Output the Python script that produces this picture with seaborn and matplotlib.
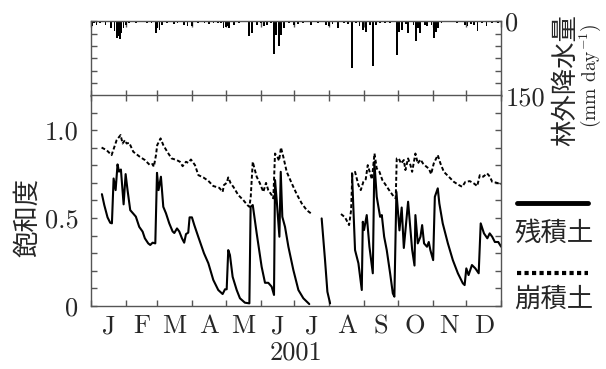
import numpy as np
import pandas as pd
import matplotlib
matplotlib.use("Agg")
import matplotlib.pyplot as plt
from matplotlib.lines import Line2D
import seaborn as sns

# ---- data (day of year 2001, 0 = Jan 1) ----
month_labels = ['J', 'F', 'M', 'A', 'M', 'J', 'J', 'A', 'S', 'O', 'N', 'D']
month_starts = [0, 31, 59, 90, 120, 151, 181, 212, 243, 273, 304, 334, 365]

# residual soil (残積土), solid line; gaps in the record split it into pieces
resid_day = [9.8, 11.9, 14.8, 17.2, 18.7, 20.2, 22.0, 23.7, 25.0, 26.7, 29.1, 30.9,
             32.6, 35.0, 38.0, 40.0, 43.0, 46.0, 48.0, 51.0, 52.8, 54.9, 57.3, 58.8,
             60.2, 62.3, 64.4, 66.8, 69.7, 72.7, 74.2, 76.6, 78.6, 81.0, 83.0, 84.6,
             86.6, 87.8, 89.9, 92.0, 95.5, 100.6, 104.5, 108.9, 113.3, 117.2, 119.3, 120.8,
             122.2, 123.7, 126.1, 129.7, 132.6, 137.0, 141.0, 142.1, 144.0, 147.5, 151.9, 154.9,
             157.8, 160.8, 162.9, 163.8, 165.3, 167.7, 168.9, 170.3, 172.7, 175.7, 180.1, 184.6,
             189.0, 194.3,
             205.3, 208.3, 210.4, 212.8,
             232.3, 235.0, 238.0, 241.0, 241.9, 243.0, 245.4, 247.8, 250.8, 252.2, 254.3, 257.3,
             258.8, 260.9, 263.2, 266.2, 268.6, 270.0, 271.8, 274.5, 276.5, 278.4, 282.2, 285.8,
             287.9, 288.7, 290.8, 293.2, 294.7, 296.4, 299.0, 300.6, 302.0, 304.5, 306.0, 308.6,
             310.0, 313.0, 317.6, 322.0, 326.5, 330.9, 332.5, 334.0, 336.0, 339.0, 342.0, 345.0,
             346.8, 349.7, 352.7, 354.8, 357.0, 359.4, 362.4, 365.0]
resid_sat = [0.636, 0.574, 0.504, 0.473, 0.470, 0.725, 0.659, 0.805, 0.764, 0.776, 0.578, 0.750,
             0.659, 0.545, 0.523, 0.508, 0.450, 0.423, 0.385, 0.356, 0.347, 0.360, 0.356, 0.757,
             0.659, 0.735, 0.564, 0.527, 0.470, 0.424, 0.415, 0.441, 0.424, 0.385, 0.360, 0.409,
             0.417, 0.504, 0.504, 0.460, 0.394, 0.300, 0.243, 0.148, 0.091, 0.068, 0.095, 0.095,
             0.318, 0.290, 0.166, 0.091, 0.044, 0.019, 0.015, 0.564, 0.574, 0.413, 0.223, 0.132,
             0.132, 0.110, 0.063, 0.716, 0.602, 0.394, 0.763, 0.507, 0.450, 0.337, 0.205, 0.091,
             0.044, 0.011,
             0.498, 0.261, 0.081, 0.015,
             0.754, 0.318, 0.243, 0.091, 0.479, 0.432, 0.517, 0.337, 0.186, 0.820, 0.621, 0.507,
             0.517, 0.394, 0.318, 0.186, 0.072, 0.053, 0.649, 0.430, 0.560, 0.330, 0.593, 0.320,
             0.230, 0.517, 0.356, 0.394, 0.460, 0.356, 0.337, 0.364, 0.318, 0.261, 0.621, 0.669,
             0.583, 0.470, 0.356, 0.261, 0.186, 0.129, 0.119, 0.214, 0.176, 0.233, 0.214, 0.186,
             0.470, 0.413, 0.385, 0.413, 0.394, 0.364, 0.364, 0.337]

# colluvial soil (崩積土), dashed line
coll_day = [9.5, 14.0, 18.4, 19.9, 22.9, 26.4, 28.2, 30.3, 31.8, 34.1, 37.7, 43.6,
            48.0, 52.5, 54.9, 56.0, 57.9, 59.0, 62.0, 64.4, 67.9, 71.8, 76.3, 79.2,
            81.6, 84.6, 86.6, 89.0, 92.6, 95.6, 100.0, 104.4, 108.9, 114.2, 117.2, 118.4,
            120.8, 122.2, 124.4, 126.7, 131.1, 135.6, 139.2, 141.0, 142.2, 144.0, 145.1, 147.5,
            150.4, 153.4, 155.8, 157.8, 160.8, 162.3, 163.8, 165.9, 167.4, 169.1, 171.2, 174.2,
            178.7, 183.1, 187.6, 192.0, 196.5,
            222.5, 226.1, 229.7, 231.5, 232.6, 235.0, 238.0, 240.1, 242.4, 244.5, 246.3, 248.4,
            250.0, 252.3, 254.3, 256.7, 259.3, 262.3, 265.3, 269.1, 271.2, 272.1, 273.9, 276.0,
            278.4, 279.8, 282.2, 284.3, 285.8, 288.7, 290.8, 293.2, 295.5, 298.5, 300.6, 302.7,
            305.0, 308.6, 311.0, 314.0, 318.4, 322.9, 327.3, 330.3, 333.2, 337.1, 340.7, 343.7,
            346.0, 349.0, 352.5, 355.0, 357.0, 360.8, 365.0]
coll_sat = [0.901, 0.886, 0.858, 0.886, 0.943, 0.972, 0.924, 0.943, 0.924, 0.928, 0.877, 0.848,
            0.830, 0.801, 0.807, 0.792, 0.858, 0.915, 0.953, 0.915, 0.877, 0.839, 0.830, 0.820,
            0.795, 0.820, 0.814, 0.833, 0.801, 0.744, 0.731, 0.712, 0.682, 0.672, 0.649, 0.688,
            0.700, 0.731, 0.697, 0.678, 0.631, 0.602, 0.574, 0.564, 0.621, 0.820, 0.792, 0.735,
            0.697, 0.649, 0.700, 0.659, 0.631, 0.612, 0.867, 0.848, 0.826, 0.901, 0.848, 0.763,
            0.697, 0.636, 0.583, 0.545, 0.523,
            0.523, 0.504, 0.460, 0.545, 0.754, 0.763, 0.688, 0.659, 0.706, 0.720, 0.801, 0.754,
            0.720, 0.867, 0.782, 0.763, 0.716, 0.688, 0.659, 0.625, 0.612, 0.839, 0.839, 0.810,
            0.830, 0.773, 0.839, 0.801, 0.763, 0.867, 0.810, 0.833, 0.810, 0.792, 0.782, 0.750,
            0.810, 0.858, 0.810, 0.763, 0.735, 0.706, 0.688, 0.678, 0.706, 0.710, 0.697, 0.682,
            0.744, 0.735, 0.754, 0.735, 0.706, 0.701, 0.693]

# open-field precipitation (林外降水量), mm/day
rain_day = [1, 3, 5, 8, 13, 18, 21, 23, 25, 26, 27, 29, 31, 34, 40, 45, 50, 54, 58, 59,
            61, 63, 68, 74, 77, 83, 86, 90, 95, 101, 105, 109, 113, 116, 118, 120, 121, 123,
            127, 132, 138, 141, 143, 148, 151, 154, 157, 160, 163, 165, 167, 169, 172, 176, 181,
            184, 189, 196, 202, 209, 212, 215, 220, 225, 229, 232, 236, 239, 242, 245, 248, 251,
            254, 257, 262, 266, 272, 274, 277, 280, 282, 287, 289, 291, 293, 297, 299, 303, 305,
            307, 309, 312, 318, 326, 333, 335, 338, 341, 344, 348, 352, 357, 362]
rain_mm = [10, 4, 7, 3, 8, 14, 20, 34, 30, 35, 24, 14, 7, 4, 3, 2, 3, 4, 24, 14,
           17, 7, 3, 5, 4, 8, 10, 10, 4, 3, 5, 4, 4, 3, 14, 12, 10, 14,
           7, 3, 2, 30, 24, 7, 4, 10, 7, 3, 66, 27, 50, 27, 14, 3, 7,
           5, 3, 7, 3, 7, 10, 6, 14, 4, 5, 94, 4, 10, 17, 21, 7, 90,
           7, 4, 4, 4, 68, 21, 17, 6, 24, 7, 39, 14, 24, 7, 10, 7, 34,
           21, 13, 4, 2, 3, 7, 10, 5, 7, 19, 4, 10, 4, 4]


def with_segments(day, sat):
    # a new piece starts wherever the record has a gap of more than 8 days
    df = pd.DataFrame({'day': day, 'sat': sat})
    df['seg'] = np.concatenate([[0], np.cumsum(np.diff(day) > 8)])
    return df


resid = with_segments(resid_day, resid_sat)
coll = with_segments(coll_day, coll_sat)

# ---- figure ----
sns.set_style('ticks')
plt.rcParams['font.family'] = ['cmr10', 'Noto Sans CJK JP']
plt.rcParams['mathtext.fontset'] = 'cm'
plt.rcParams['axes.formatter.use_mathtext'] = True
cjk = ['Noto Sans CJK JP']

fig = plt.figure(figsize=(6.06, 3.69), dpi=100)
ax_r = fig.add_axes([0.150, 0.740, 0.677, 0.203])
ax = fig.add_axes([0.150, 0.1707, 0.677, 0.572])

spine_col = '#555555'
fs = 19

# precipitation (hanging bars)
ax_r.bar(rain_day, rain_mm, width=1.6, color='black', align='center', linewidth=0)
ax_r.set_ylim(150, 0)
ax_r.set_xlim(0, 365)
ax_r.yaxis.tick_right()
ax_r.set_yticks([0, 150])
ax_r.set_yticklabels(['0', '150'], fontsize=fs)
ax_r.set_yticks(np.arange(25, 150, 25), minor=True)
ax_r.set_xticks(month_starts)
ax_r.set_xticklabels([])

# saturation lines
sns.lineplot(data=resid, x='day', y='sat', units='seg', estimator=None, ax=ax,
             color='black', linewidth=1.5, sort=False)
sns.lineplot(data=coll, x='day', y='sat', units='seg', estimator=None, ax=ax,
             color='black', linewidth=1.4, linestyle=(0, (2.0, 1.2)), sort=False)
ax.set_xlim(0, 365)
ax.set_ylim(0, 1.2)
ax.set_yticks([0, 0.5, 1.0])
ax.set_yticklabels(['0', '0.5', '1.0'], fontsize=fs)
ax.set_yticks(np.arange(0.1, 1.2, 0.1), minor=True)
ax.set_xticks(month_starts)
ax.set_xticklabels([])
mids = [(month_starts[i] + month_starts[i + 1]) / 2 for i in range(12)]
ax.set_xticks(mids, minor=True)
ax.set_xticklabels(month_labels, minor=True, fontsize=fs)
ax.set_xlabel('')
ax.set_ylabel('')

for a in (ax, ax_r):
    for s in a.spines.values():
        s.set_visible(True)
        s.set_color(spine_col)
        s.set_linewidth(1.0)
    a.tick_params(which='both', direction='in', top=True, bottom=True, left=True, right=True,
                  color=spine_col, length=4.5, width=1.0)
ax.tick_params(axis='y', which='major', pad=9)
ax.tick_params(axis='x', which='minor', length=0, pad=6)
ax_r.tick_params(axis='y', which='major', pad=3, labelright=True, labelleft=False)

# year below the month letters
fig.text(296 / 606, 1 - 353 / 369, '2001', fontsize=fs, ha='center', va='center')

# axis titles
fig.text(28 / 606, 1 - 217 / 369, '飽和度', rotation=90, fontsize=19,
         family=cjk, ha='center', va='center')
fig.text(566 / 606, 1 - 80 / 369, '林外降水量', rotation=90, fontsize=19,
         family=cjk, ha='center', va='center')
fig.text(590 / 606, 1 - 76 / 369, '(mm day$^{-1}$)', rotation=90, fontsize=14,
         ha='center', va='center')

# hand-made legend on the right
fig.add_artist(Line2D([517 / 606, 588 / 606], [1 - 203 / 369] * 2, color='black', linewidth=3.5))
fig.text(554 / 606, 1 - 233 / 369, '残積土', fontsize=19, family=cjk,
         ha='center', va='center')
fig.add_artist(Line2D([517 / 606, 588 / 606], [1 - 273 / 369] * 2, color='black', linewidth=3,
                      linestyle=(0, (1, 0.8))))
fig.text(554 / 606, 1 - 299 / 369, '崩積土', fontsize=19, family=cjk,
         ha='center', va='center')

fig.savefig('out.png', dpi=100)
